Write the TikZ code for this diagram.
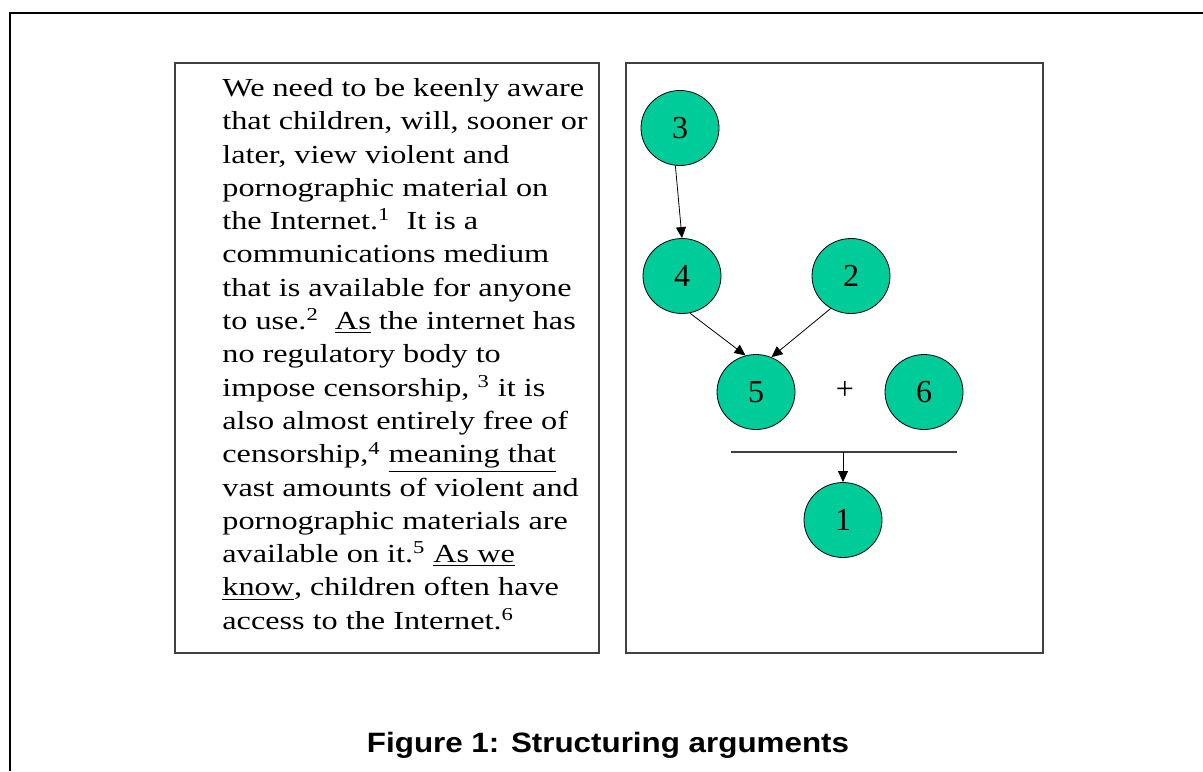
\documentclass[tikz,border=0pt]{standalone}
\usepackage{fontspec}
\setmainfont{Liberation Serif}
\setsansfont{Liberation Sans}
\newfontfamily\argfont[FakeStretch=1.24]{Liberation Serif}
\newfontfamily\capfont[FakeStretch=1.12]{Liberation Sans}
\usetikzlibrary{shapes.geometric, arrows.meta}
\definecolor{argfill}{RGB}{0,204,153}

\begin{document}
\begin{tikzpicture}[x=0.5pt, y=-0.5pt,
    claim/.style={ellipse, draw, fill=argfill, minimum width=39pt, minimum height=37.5pt, inner sep=0pt, font=\fontsize{16}{18}\selectfont},
    link/.style={-{Triangle[length=5.5pt,width=5pt]}, line width=0.4pt},
    panel/.style={draw=black!75, line width=0.7pt}]
                \useasboundingbox (0,0) rectangle (1203,771);
                % outer frame, cut at the right and bottom
                \draw[line width=1.3pt] (1203,13) -- (10,13) -- (10,771);

                % the two panels
                \draw[panel] (175,63) rectangle (599,653);
                \draw[panel] (626,63) rectangle (1043,653);

                % the argument text
                \node[anchor=north west, align=left, inner sep=0pt, font=\argfont\fontsize{13}{16.65}\selectfont] (argtext) at (222,78) {%
                    We need to be keenly aware\\
                    that children, will, sooner or\\
                    later, view violent and\\
                    pornographic material on\\
                    the Internet.\textsuperscript{1}\ \ It is a\\
                    communications medium\\
                    that is available for anyone\\
                    to use.\textsuperscript{2}\ \ \underline{As} the internet has\\
                    no regulatory body to\\
                    impose censorship, \textsuperscript{3} it is\\
                    also almost entirely free of\\
                    censorship,\textsuperscript{4} \underline{meaning that}\\
                    vast amounts of violent and\\
                    pornographic materials are\\
                    available on it.\textsuperscript{5} \underline{As we}\\
                    \underline{know}, children often have\\
                    access to the Internet.\textsuperscript{6}};

                % the claims
                \node[claim] (n3) at (680,128) {3};
                \node[claim] (n4) at (682,276) {4};
                \node[claim] (n2) at (851,276) {2};
                \node[claim] (n5) at (756,392) {5};
                \node[font=\fontsize{16}{18}\selectfont] (plus) at (845,390) {+};
                \node[claim] (n6) at (924,392) {6};
                \node[claim] (n1) at (843,520) {1};

                \draw[link] (n3.263) -- (n4.north);
                \draw[link] (n4.-78) -- (n5.106);
                \draw[link] (n2.238) -- (n5.66);

                % the bar joining 5 and 6
                \coordinate (barL) at (731,452);
                \coordinate (barR) at (957,452);
                \coordinate (barmid) at (843,452);
                \draw[line width=0.6pt, black!75] (barL) -- (barR);
                \draw[link] (barmid) -- (n1);

                \node[anchor=base, font=\capfont\bfseries\fontsize{14}{16}\selectfont] (caption) at (608,752) {Figure 1: Structuring arguments};
\end{tikzpicture}
\end{document}
